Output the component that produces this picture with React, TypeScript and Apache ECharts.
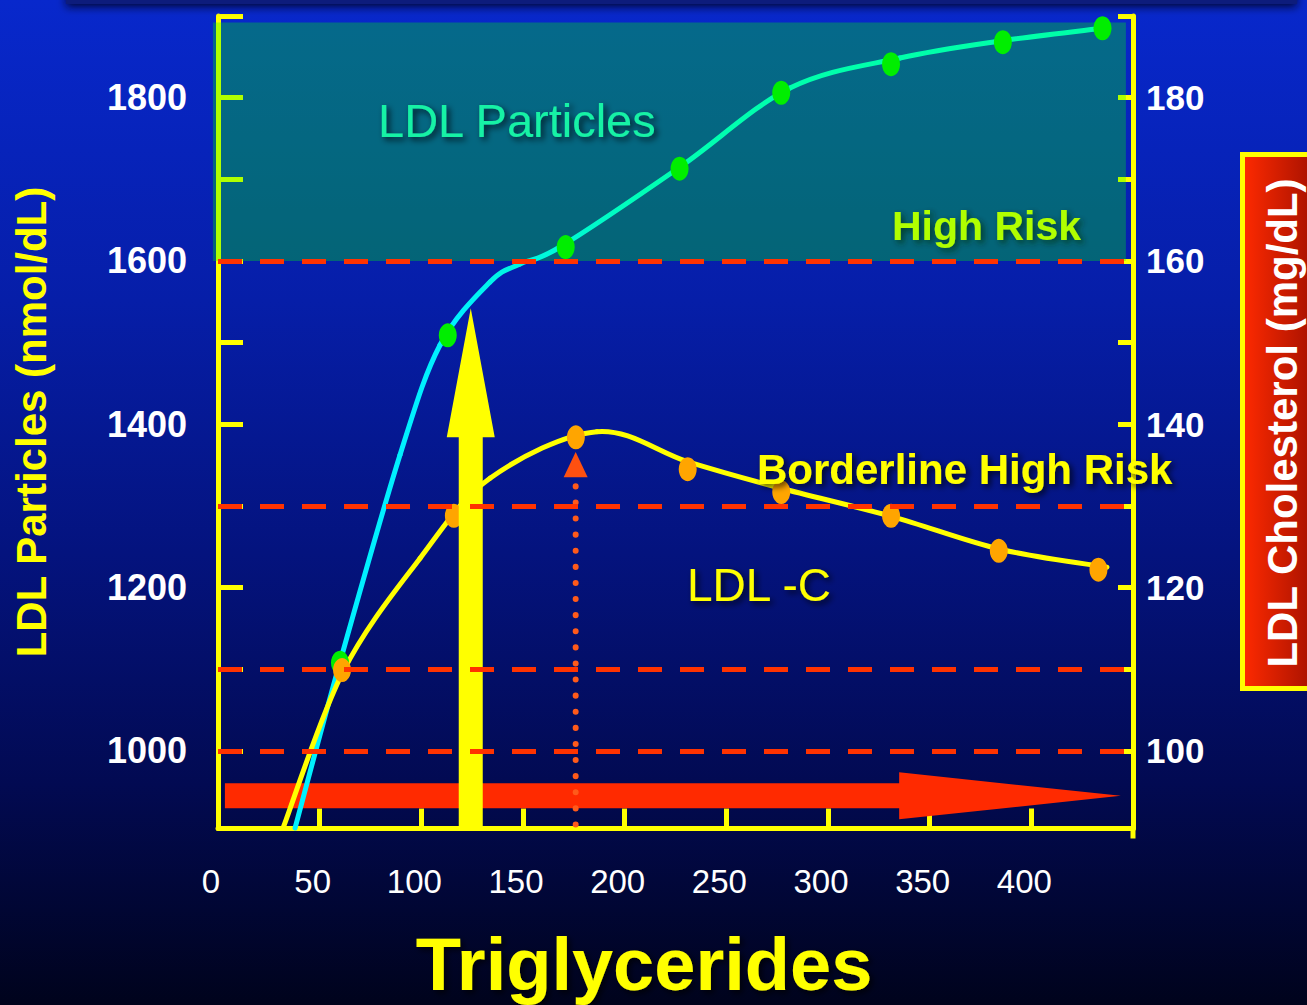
import React, { useEffect, useRef } from "react";
import * as echarts from "echarts";

// ---- axis ticks / labels ----
const xTickValues = [50, 100, 150, 200, 250, 300, 350, 400];
const xLabelValues = [0, 50, 100, 150, 200, 250, 300, 350, 400];
const leftTickValues = [1000, 1100, 1200, 1300, 1400, 1500, 1600, 1700, 1800, 1900];
const leftLabelValues = [1000, 1200, 1400, 1600, 1800];
const rightTickValues = [100, 110, 120, 130, 140, 150, 160, 170, 180, 190];
const rightLabelValues = [100, 120, 140, 160, 180];

// ---- risk thresholds (LDL particles, nmol/dL) ----
const riskLines = [1000, 1100, 1300, 1600];
const highRiskBand = [1600, 1892];

// ---- measured points ----
const ldlpDots = [
  [60, 1108], [113, 1509], [171, 1617], [227, 1713],
  [277, 1806], [331, 1841], [386, 1868], [435, 1885],
];
const ldlcDots = [
  [61, 109.9], [116, 128.8], [176, 138.4], [231, 134.5],
  [277, 131.7], [331, 128.8], [384, 124.5], [433, 122.2],
];

// ---- fitted curves as drawn (knots of the smooth trend lines) ----
const ldlpCurve = [
  [37.9, 905.6], [60.0, 1108.9], [89.5, 1362.4], [109.2, 1497.1], [133.8, 1574.3],
  [148.5, 1596.3], [168.2, 1617.1], [227.2, 1715.1], [281.3, 1811.8], [335.4, 1848.6],
  [384.6, 1869.4], [435.8, 1885.3],
];
const ldlcCurve = [
  [32.0, 90.56], [61.5, 109.7], [99.4, 123.6], [133.8, 133.4], [186.4, 139.1],
  [231.2, 135.4], [276.4, 132.2], [331.5, 128.7], [384.6, 124.7], [437.2, 122.5],
];

// ---- annotation anchors (data units) ----
const bigArrowX = 124.3;
const bigArrowTip = 1542;
const bigArrowHeadBase = 1384;
const peakMarkerX = 175.9;
const peakMarkerTop = 1334;
const peakMarkerTip = 1366;
const trendArrowY = 945;
const trendArrowStart = 3.4;
const trendArrowHeadX = 335;
const trendArrowTipX = 444;
const bandX = [-2.5, 446.5];

const FONT = "'Liberation Sans', Arial, Helvetica, sans-serif";
const YELLOW = "#ffff00";

function splineSeries(pts: number[][], yAxisIndex: number, stroke: any, name: string) {
  return {
    name,
    type: "custom",
    coordinateSystem: "cartesian2d",
    yAxisIndex,
    data: [pts[0]],
    z: 2,
    silent: true,
    clip: false,
    renderItem: (_params: any, api: any) => {
      const p = pts.map((d) => api.coord(d) as number[]);
      const children: any[] = [];
      for (let i = 0; i < p.length - 1; i++) {
        const p0 = p[i - 1] || p[i];
        const p1 = p[i];
        const p2 = p[i + 1];
        const p3 = p[i + 2] || p[i + 1];
        const t1 = [(p2[0] - p0[0]) / 2, (p2[1] - p0[1]) / 2];
        const t2 = [(p3[0] - p1[0]) / 2, (p3[1] - p1[1]) / 2];
        children.push({
          type: "bezierCurve",
          shape: {
            x1: p1[0],
            y1: p1[1],
            x2: p2[0],
            y2: p2[1],
            cpx1: p1[0] + t1[0] / 3,
            cpy1: p1[1] + t1[1] / 3,
            cpx2: p2[0] - t2[0] / 3,
            cpy2: p2[1] - t2[1] / 3,
          },
          style: { stroke, lineWidth: 5, fill: "none", lineCap: "round" },
        });
      }
      return { type: "group", children };
    },
  };
}

export default function App() {
  const ref = useRef<HTMLDivElement>(null);

  useEffect(() => {
    document.body.style.margin = "0";
    const chart = echarts.init(ref.current!, null, { renderer: "svg" });

    const ldlpGradient = new echarts.graphic.LinearGradient(
      0, 27, 0, 828,
      [
        { offset: 0, color: "#00ffa8" },
        { offset: 0.2, color: "#00ffb4" },
        { offset: 0.36, color: "#00f0ff" },
        { offset: 1, color: "#00f0ff" },
      ],
      true
    );

    const plain = (v: number) => String(v);

    chart.setOption({
      animation: false,
      backgroundColor: "transparent",
      grid: { left: 218, top: 16, width: 915, height: 812.5 },
      xAxis: {
        type: "value",
        min: 0,
        max: 450,
        axisLine: { show: true, onZero: false, lineStyle: { color: YELLOW, width: 5 } },
        axisTick: {
          show: true,
          inside: true,
          length: 20,
          customValues: xTickValues,
          lineStyle: { color: YELLOW, width: 5 },
        },
        axisLabel: {
          customValues: xLabelValues,
          formatter: plain,
          color: "#ffffff",
          fontSize: 33,
          fontFamily: FONT,
          margin: 36,
          padding: [0, 14, 0, 0],
        },
        splitLine: { show: false },
      },
      yAxis: [
        {
          type: "value",
          position: "left",
          min: 905,
          max: 1900,
          axisLine: { show: true, onZero: false, lineStyle: { color: YELLOW, width: 5 } },
          axisTick: {
            show: true,
            inside: true,
            length: 25,
            customValues: leftTickValues,
            lineStyle: { color: YELLOW, width: 5 },
          },
          axisLabel: {
            customValues: leftLabelValues,
            formatter: plain,
            color: "#ffffff",
            fontSize: 36,
            fontWeight: "bold",
            fontFamily: FONT,
            margin: 31,
          },
          splitLine: { show: false },
        },
        {
          type: "value",
          position: "right",
          min: 90.5,
          max: 190,
          axisLine: { show: true, onZero: false, lineStyle: { color: YELLOW, width: 5 } },
          axisTick: {
            show: true,
            inside: true,
            length: 15,
            customValues: rightTickValues,
            lineStyle: { color: YELLOW, width: 5 },
          },
          axisLabel: {
            customValues: rightLabelValues,
            formatter: plain,
            color: "#ffffff",
            fontSize: 35,
            fontWeight: "bold",
            fontFamily: FONT,
            margin: 13,
          },
          splitLine: { show: false },
        },
      ],
      series: [
        {
          type: "scatter",
          data: [],
          z: 1.5,
          markLine: {
            silent: true,
            symbol: ["none", "none"],
            label: { show: false },
            lineStyle: { color: "#ff3300", width: 5, type: [24, 18] },
            data: riskLines.map((v) => ({ yAxis: v })),
          },
        },
        splineSeries(ldlpCurve, 0, ldlpGradient, "LDL Particles"),
        splineSeries(ldlcCurve, 1, YELLOW, "LDL-C"),
        {
          type: "scatter",
          yAxisIndex: 0,
          data: ldlpDots,
          symbol: "circle",
          symbolSize: [18, 24],
          z: 3,
          itemStyle: { color: "#00ee00", opacity: 1 },
        },
        {
          type: "scatter",
          yAxisIndex: 1,
          data: ldlcDots,
          symbol: "circle",
          symbolSize: [18, 24],
          z: 3,
          itemStyle: { color: "#ffa500", opacity: 1 },
        },
      ],
    });

    const px = (x: number, y: number, yi = 0) =>
      chart.convertToPixel({ xAxisIndex: 0, yAxisIndex: yi } as any, [x, y]) as number[];

    const bandTL = px(bandX[0], highRiskBand[1]);
    const bandBR = px(bandX[1], highRiskBand[0]);
    const bottomY = px(0, 905)[1];
    const rightX = px(450, 905)[0];

    const aTip = px(bigArrowX, bigArrowTip);
    const aBase = px(bigArrowX, bigArrowHeadBase);
    const ax = aTip[0];

    const mTop = px(peakMarkerX, peakMarkerTop);
    const mTip = px(peakMarkerX, peakMarkerTip);
    const mx = mTop[0];

    const tStart = px(trendArrowStart, trendArrowY);
    const tHead = px(trendArrowHeadX, trendArrowY);
    const tTip = px(trendArrowTipX, trendArrowY);
    const ty = tStart[1];

    const shadow = {
      textShadowColor: "rgba(0,0,0,0.75)",
      textShadowBlur: 6,
      textShadowOffsetX: 3,
      textShadowOffsetY: 3,
    };

    chart.setOption({
      graphic: [
        {
          type: "rect",
          z: 1,
          silent: true,
          shape: { x: 66, y: -20, width: 1231, height: 24 },
          style: { fill: "#0a1a7c", shadowColor: "rgba(0,0,30,0.8)", shadowBlur: 8, shadowOffsetY: 3 },
        },
        {
          type: "line",
          z: 1,
          silent: true,
          shape: { x1: rightX, y1: bottomY, x2: rightX, y2: bottomY + 10 },
          style: { stroke: YELLOW, lineWidth: 5 },
        },
        {
          type: "rect",
          z: 1,
          silent: true,
          shape: {
            x: bandTL[0],
            y: bandTL[1],
            width: bandBR[0] - bandTL[0],
            height: bandBR[1] - bandTL[1],
          },
          style: { fill: "rgba(0,255,0,0.31)" },
        },
        {
          type: "polygon",
          z: 1,
          silent: true,
          shape: {
            points: [
              [tStart[0], ty - 12.5],
              [tHead[0], ty - 12.5],
              [tHead[0], ty - 23.5],
              [tTip[0], ty],
              [tHead[0], ty + 23.5],
              [tHead[0], ty + 12.5],
              [tStart[0], ty + 12.5],
            ],
          },
          style: { fill: "#ff2a00" },
        },
        {
          type: "polygon",
          z: 4,
          silent: true,
          shape: {
            points: [
              [ax - 12, bottomY],
              [ax - 12, aBase[1]],
              [ax - 24, aBase[1]],
              [ax, aTip[1]],
              [ax + 24, aBase[1]],
              [ax + 12, aBase[1]],
              [ax + 12, bottomY],
            ],
          },
          style: { fill: YELLOW },
        },
        {
          type: "line",
          z: 4,
          silent: true,
          shape: { x1: mx, y1: bottomY - 4, x2: mx, y2: mTop[1] },
          style: { stroke: "#ff5a1a", lineWidth: 6, lineCap: "round", lineDash: [0.1, 16] },
        },
        {
          type: "polygon",
          z: 4,
          silent: true,
          shape: {
            points: [
              [mx - 12, mTop[1] - 1],
              [mx + 12, mTop[1] - 1],
              [mx, mTip[1]],
            ],
          },
          style: { fill: "#ff5010" },
        },
        {
          type: "text",
          z: 5,
          silent: true,
          x: 378,
          y: 120,
          style: {
            text: "LDL Particles",
            fill: "#19f2a5",
            font: `47px ${FONT}`,
            textAlign: "left",
            textVerticalAlign: "middle",
            ...shadow,
          },
        },
        {
          type: "text",
          z: 5,
          silent: true,
          x: 892,
          y: 226,
          style: {
            text: "High Risk",
            fill: "#b0ff00",
            font: `bold 41px ${FONT}`,
            textAlign: "left",
            textVerticalAlign: "middle",
            textShadowColor: "rgba(0,40,0,0.7)",
            textShadowBlur: 6,
            textShadowOffsetX: 3,
            textShadowOffsetY: 3,
          },
        },
        {
          type: "text",
          z: 5,
          silent: true,
          x: 757,
          y: 469,
          style: {
            text: "Borderline High Risk",
            fill: YELLOW,
            font: `bold 42px ${FONT}`,
            textAlign: "left",
            textVerticalAlign: "middle",
            ...shadow,
          },
        },
        {
          type: "text",
          z: 5,
          silent: true,
          x: 687,
          y: 585,
          style: {
            text: "LDL -C",
            fill: YELLOW,
            font: `46px ${FONT}`,
            textAlign: "left",
            textVerticalAlign: "middle",
            ...shadow,
          },
        },
        {
          type: "text",
          z: 5,
          silent: true,
          x: 644,
          y: 964,
          style: {
            text: "Triglycerides",
            fill: YELLOW,
            font: `bold 74px ${FONT}`,
            textAlign: "center",
            textVerticalAlign: "middle",
            ...shadow,
          },
        },
        {
          type: "text",
          z: 5,
          silent: true,
          x: 31,
          y: 422,
          rotation: Math.PI / 2,
          style: {
            text: "LDL Particles (nmol/dL)",
            fill: YELLOW,
            font: `bold 42px ${FONT}`,
            textAlign: "center",
            textVerticalAlign: "middle",
          },
        },
        {
          type: "rect",
          z: 5,
          silent: true,
          shape: { x: 1242.5, y: 154.5, width: 80, height: 534 },
          style: {
            fill: new echarts.graphic.LinearGradient(0, 0, 1, 0, [
              { offset: 0, color: "#ff2a00" },
              { offset: 0.8, color: "#b01400" },
              { offset: 1, color: "#a01000" },
            ]),
            stroke: YELLOW,
            lineWidth: 5,
          },
        },
        {
          type: "text",
          z: 6,
          silent: true,
          x: 1282,
          y: 423,
          rotation: Math.PI / 2,
          style: {
            text: "LDL Cholesterol (mg/dL)",
            fill: "#ffffff",
            font: `bold 42px ${FONT}`,
            textAlign: "center",
            textVerticalAlign: "middle",
          },
        },
      ],
    });

    return () => chart.dispose();
  }, []);

  return (
    <div
      ref={ref}
      style={{
        width: 1307,
        height: 1005,
        background:
          "linear-gradient(to bottom, #0828cc 0%, #061ea8 30%, #04137e 55%, #020a52 78%, #00031c 100%)",
      }}
    />
  );
}
